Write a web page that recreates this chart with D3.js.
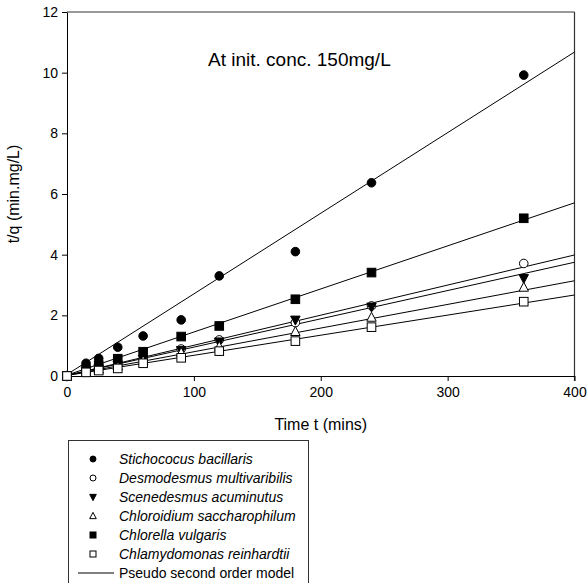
<!DOCTYPE html>
<html>
<head>
<meta charset="utf-8">
<script src="https://cdn.jsdelivr.net/npm/d3@7"></script>
<style>
  body { margin: 0; background: #fff; }
  svg text { font-family: "Liberation Sans", Arial, sans-serif; }
</style>
</head>
<body>
<div id="chart"></div>
<script>
var width = 587, height = 583
var margin = {top: 12, right: 12, bottom: 207, left: 67}

// sampling times (mins)
var times = [0, 15, 25, 40, 60, 90, 120, 180, 240, 360]

var species = ['Stichococus bacillaris', 'Desmodesmus multivaribilis', 'Scenedesmus acuminutus',
  'Chloroidium saccharophilum', 'Chlorella vulgaris', 'Chlamydomonas reinhardtii']
var symbols = ['circleFill', 'circleOpen', 'triDown', 'triOpen', 'squareFill', 'squareOpen']

// t/q values, one array per species
var stichococus = [0, 0.42, 0.58, 0.95, 1.32, 1.85, 3.30, 4.10, 6.37, 9.92]
var desmodesmus = [0, 0.14, 0.24, 0.36, 0.55, 0.89, 1.19, 1.76, 2.31, 3.71]
var scenedesmus = [0, 0.15, 0.25, 0.37, 0.55, 0.85, 1.13, 1.85, 2.28, 3.22]
var chloroidium = [0, 0.13, 0.22, 0.33, 0.50, 0.77, 0.97, 1.46, 1.93, 2.92]
var chlorella = [0, 0.22, 0.36, 0.57, 0.80, 1.30, 1.65, 2.53, 3.41, 5.20]
var chlamydomonas = [0, 0.12, 0.18, 0.25, 0.42, 0.60, 0.82, 1.15, 1.61, 2.45]
var seriesValues = [stichococus, desmodesmus, scenedesmus, chloroidium, chlorella, chlamydomonas]

// model line: value at t = 0 and at t = 400
var modelTimes = [0, 400]
var modelStart = [0.05, 0.02, 0.02, 0.02, 0.03, 0.02]
var modelEnd = [10.68, 3.99, 3.75, 3.14, 5.71, 2.67]

var xTicks = [0, 100, 200, 300, 400]
var yTicks = [0, 2, 4, 6, 8, 10, 12]

var svg = d3.select("#chart")
  .append("svg")
  .attr("width", width)
  .attr("height", height)

var xScale = d3.scaleLinear()
  .domain([0, 400])
  .range([margin.left, width - margin.right - 0.5])

var yScale = d3.scaleLinear()
  .domain([0, 12])
  .range([height - margin.bottom, margin.top])

// frame (top / right)
svg.append("line")
  .attr("x1", xScale(0)).attr("x2", xScale(400))
  .attr("y1", yScale(12)).attr("y2", yScale(12))
  .attr("stroke", "#777").attr("stroke-width", 1.5)
svg.append("line")
  .attr("x1", xScale(400)).attr("x2", xScale(400))
  .attr("y1", yScale(12)).attr("y2", yScale(0) + 5)
  .attr("stroke", "#333").attr("stroke-width", 1.2)

// X axis
var xAxis = d3.axisBottom(xScale)
  .tickValues(xTicks)
  .tickSize(5)
  .tickSizeOuter(0)
svg.append("g")
  .attr("transform", `translate(0, ${yScale(0)})`)
  .attr("class", "x-axis")
  .call(xAxis)
  .call(g => g.select(".domain").attr("stroke", "#000"))
  .selectAll("text")
  .attr("font-size", "14px")
  .attr("fill", "#000")
  .attr("dy", "0.95em")

// Y axis
var yAxis = d3.axisLeft(yScale)
  .tickValues(yTicks)
  .tickSize(5)
  .tickSizeOuter(0)
svg.append("g")
  .attr("transform", `translate(${xScale(0)}, 0)`)
  .attr("class", "y-axis")
  .call(yAxis)
  .call(g => g.select(".domain").attr("stroke", "#000"))
  .selectAll("text")
  .attr("font-size", "14px")
  .attr("fill", "#000")
  .attr("x", -9)

// axis titles
svg.append("text")
  .attr("x", (xScale(0) + xScale(400)) / 2)
  .attr("y", 430)
  .attr("text-anchor", "middle")
  .attr("font-size", "16px")
  .text("Time t (mins)")

svg.append("text")
  .attr("transform", `translate(19, ${(yScale(0) + yScale(12)) / 2}) rotate(-90)`)
  .attr("text-anchor", "middle")
  .attr("font-size", "16px")
  .text("t/q (min.mg/L)")

svg.append("text")
  .attr("x", 208)
  .attr("y", 66)
  .attr("font-size", "19px")
  .text("At init. conc. 150mg/L")

// model lines
var line = d3.line()
  .x(d => xScale(d[0]))
  .y(d => yScale(d[1]))

species.forEach((s, i) => {
  svg.append("path")
    .attr("d", line([[modelTimes[0], modelStart[i]], [modelTimes[1], modelEnd[i]]]))
    .attr("fill", "none")
    .attr("stroke", "#000")
    .attr("stroke-width", 1)
})

// marker drawing
function drawSymbol(g, type, x, y, size) {
  var r = size
  if (type === 'circleFill' || type === 'circleOpen') {
    g.append("circle")
      .attr("cx", x).attr("cy", y).attr("r", r)
      .attr("fill", type === 'circleFill' ? '#000' : '#fff')
      .attr("stroke", "#000").attr("stroke-width", 1)
  } else if (type === 'squareFill' || type === 'squareOpen') {
    g.append("rect")
      .attr("x", x - r).attr("y", y - r)
      .attr("width", 2 * r).attr("height", 2 * r)
      .attr("fill", type === 'squareFill' ? '#000' : '#fff')
      .attr("stroke", "#000").attr("stroke-width", 1)
  } else if (type === 'triDown') {
    var h = r * 1.1
    g.append("path")
      .attr("d", `M${x - r * 1.1},${y - h * 0.8}L${x + r * 1.1},${y - h * 0.8}L${x},${y + h * 1.1}Z`)
      .attr("fill", "#000").attr("stroke", "#000").attr("stroke-width", 1)
  } else if (type === 'triOpen') {
    var h2 = r * 1.1
    g.append("path")
      .attr("d", `M${x - r * 1.1},${y + h2 * 0.8}L${x + r * 1.1},${y + h2 * 0.8}L${x},${y - h2 * 1.1}Z`)
      .attr("fill", "#fff").attr("stroke", "#000").attr("stroke-width", 1)
  }
}

// points: draw in legend order so the open square ends on top
var pts = svg.append("g").attr("class", "points")
seriesValues.forEach((vals, i) => {
  vals.forEach((v, j) => {
    drawSymbol(pts, symbols[i], xScale(times[j]), yScale(v), 4.3)
  })
})

// legend
var legend = svg.append("g").attr("class", "legend")
legend.append("rect")
  .attr("x", 68.5).attr("y", 440.5)
  .attr("width", 240).attr("height", 160)
  .attr("fill", "#fff")
  .attr("stroke", "#333").attr("stroke-width", 1)

species.forEach((s, i) => {
  var cy = 459 + i * 19
  drawSymbol(legend, symbols[i], 93, cy, 3)
  legend.append("text")
    .attr("x", 119)
    .attr("y", cy + 5)
    .attr("font-size", "14px")
    .attr("font-style", "italic")
    .text(s)
})

legend.append("line")
  .attr("x1", 78).attr("x2", 114)
  .attr("y1", 459 + 6 * 19).attr("y2", 459 + 6 * 19)
  .attr("stroke", "#000")
legend.append("text")
  .attr("x", 119)
  .attr("y", 459 + 6 * 19 + 5)
  .attr("font-size", "14px")
  .text("Pseudo second order model")
</script>
</body>
</html>
